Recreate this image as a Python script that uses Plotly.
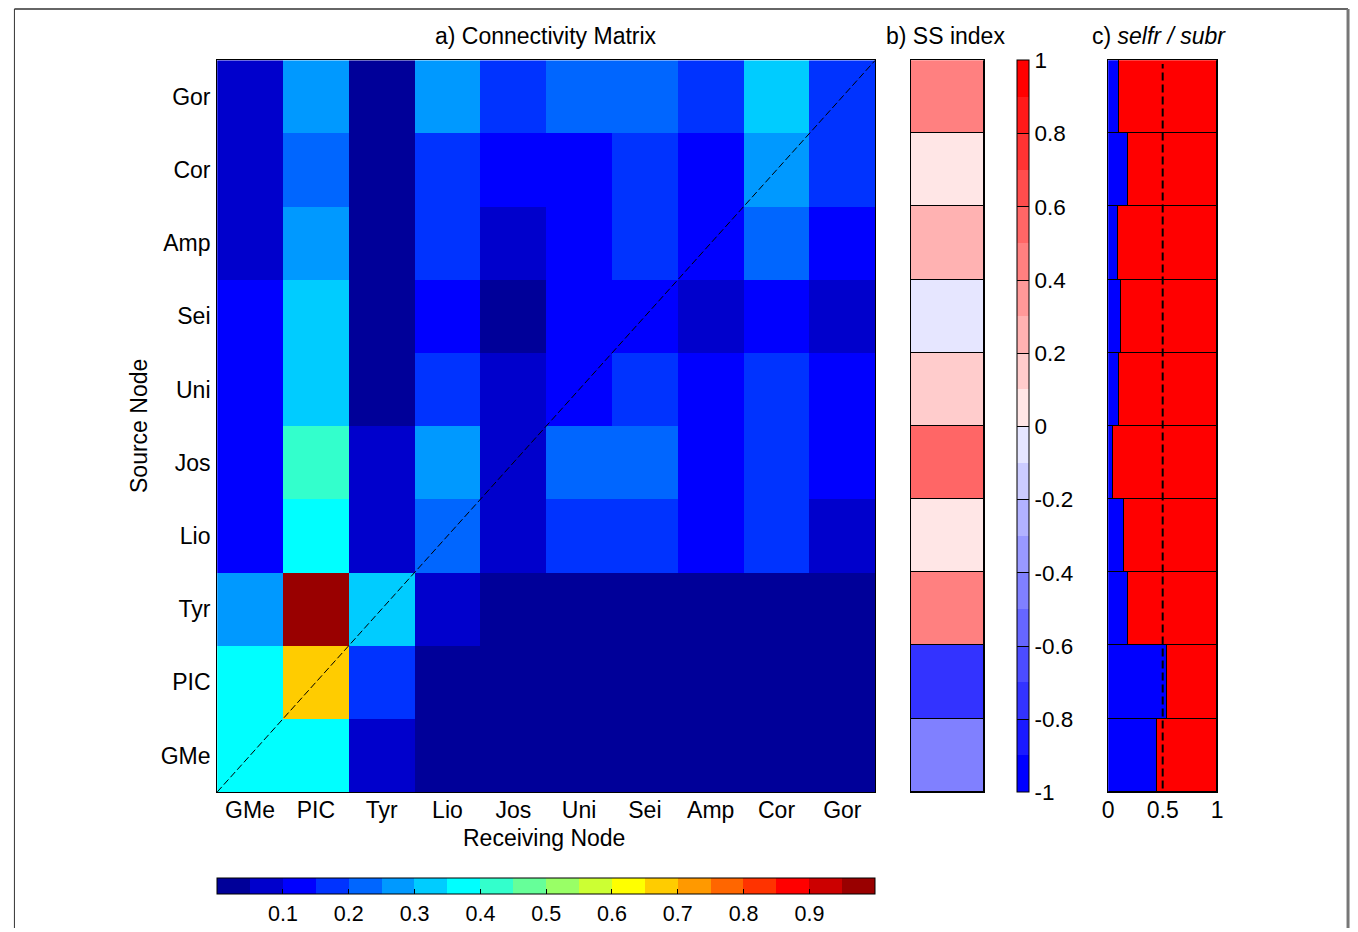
import plotly.graph_objects as go

# ---------------- data ----------------
nodes = ["GMe", "PIC", "Tyr", "Lio", "Jos", "Uni", "Sei", "Amp", "Cor", "Gor"]

# connectivity matrix: row = source node (same order as nodes), column = receiving node
conn_GMe = [0.375, 0.375, 0.075, 0.025, 0.025, 0.025, 0.025, 0.025, 0.025, 0.025]
conn_PIC = [0.375, 0.675, 0.175, 0.025, 0.025, 0.025, 0.025, 0.025, 0.025, 0.025]
conn_Tyr = [0.275, 0.975, 0.325, 0.075, 0.025, 0.025, 0.025, 0.025, 0.025, 0.025]
conn_Lio = [0.125, 0.375, 0.075, 0.225, 0.075, 0.175, 0.175, 0.125, 0.175, 0.075]
conn_Jos = [0.125, 0.425, 0.075, 0.275, 0.075, 0.225, 0.225, 0.125, 0.175, 0.125]
conn_Uni = [0.125, 0.325, 0.025, 0.175, 0.075, 0.125, 0.175, 0.125, 0.175, 0.125]
conn_Sei = [0.125, 0.325, 0.025, 0.125, 0.025, 0.125, 0.125, 0.075, 0.125, 0.075]
conn_Amp = [0.075, 0.275, 0.025, 0.175, 0.075, 0.125, 0.175, 0.125, 0.225, 0.125]
conn_Cor = [0.075, 0.225, 0.025, 0.175, 0.125, 0.125, 0.175, 0.125, 0.275, 0.175]
conn_Gor = [0.075, 0.275, 0.025, 0.275, 0.175, 0.225, 0.225, 0.175, 0.325, 0.175]
conn = [conn_GMe, conn_PIC, conn_Tyr, conn_Lio, conn_Jos,
        conn_Uni, conn_Sei, conn_Amp, conn_Cor, conn_Gor]

ss_index = [-0.45, -0.75, 0.45, 0.05, 0.55, 0.15, -0.05, 0.25, 0.05, 0.45]
selfr = [0.45, 0.54, 0.18, 0.15, 0.05, 0.10, 0.12, 0.09, 0.18, 0.10]
subr = [0.55, 0.46, 0.82, 0.85, 0.95, 0.90, 0.88, 0.91, 0.82, 0.90]

conn_ticks = [0.1, 0.2, 0.3, 0.4, 0.5, 0.6, 0.7, 0.8, 0.9]
ss_ticks = [-1, -0.8, -0.6, -0.4, -0.2, 0, 0.2, 0.4, 0.6, 0.8, 1]
ss_ticktext = ["-1", "-0.8", "-0.6", "-0.4", "-0.2", "0", "0.2", "0.4", "0.6", "0.8", "1"]
c_ticks = [0, 0.5, 1]

# ---------------- layout helpers ----------------
W, H = 1358, 932
FONT = "Arial, 'Liberation Sans', sans-serif"
FS = 23
FS_CB = 21.5


def fx(X):
    return X / W


def fy(Y):
    return 1 - Y / H


def discrete(colors):
    k = len(colors)
    cs = []
    for i, c in enumerate(colors):
        cs.append([i / k, c])
        cs.append([(i + 1) / k, c])
    return cs


jet20 = ["#000099", "#0000CC", "#0000FF", "#0033FF", "#0066FF", "#0099FF", "#00CCFF",
         "#00FFFF", "#33FFCC", "#66FF99", "#99FF66", "#CCFF33", "#FFFF00", "#FFCC00",
         "#FF9900", "#FF6600", "#FF3300", "#FF0000", "#CC0000", "#990000"]
bwr = []
for j in range(10):
    v = round(255 * j / 10)
    bwr.append(f"rgb({v},{v},255)")
for k in range(1, 11):
    v = round(255 * (1 - k / 10))
    bwr.append(f"rgb(255,{v},{v})")

idx = list(range(len(nodes)))
n = len(nodes)
tickf = dict(family=FONT, size=FS, color="black")
cbf = dict(family=FONT, size=FS_CB, color="black")

fig = go.Figure()

# a) connectivity matrix
fig.add_trace(go.Heatmap(
    z=conn, x=idx, y=idx, zmin=0, zmax=1, colorscale=discrete(jet20),
    xaxis="x", yaxis="y", hoverinfo="z",
    colorbar=dict(orientation="h", x=fx(545), xanchor="center", y=fy(882), yanchor="top",
                  len=664 / W, lenmode="fraction", thickness=16, xpad=0, ypad=0,
                  outlinecolor="black", outlinewidth=1,
                  tickvals=conn_ticks, ticktext=[str(t) for t in conn_ticks],
                  ticks="inside", ticklen=5, tickcolor="black", tickfont=cbf),
))
fig.add_trace(go.Scatter(
    x=[-0.5, n - 0.5], y=[-0.5, n - 0.5], mode="lines", xaxis="x", yaxis="y",
    line=dict(color="black", width=1, dash="7px,3px"), showlegend=False, hoverinfo="skip"))

# b) SS index
fig.add_trace(go.Bar(
    y=idx, x=[1] * n, orientation="h", width=1, xaxis="x2", yaxis="y2",
    marker=dict(color=ss_index, cmin=-1, cmax=1, colorscale=discrete(bwr),
                line=dict(color="black", width=1), showscale=True,
                colorbar=dict(x=fx(1020), xanchor="left", y=fy(428.25), yanchor="middle",
                              len=735.5 / H, lenmode="fraction", thickness=12,
                              xpad=0, ypad=0, outlinecolor="black", outlinewidth=1,
                              tickvals=ss_ticks, ticktext=ss_ticktext,
                              ticks="inside", ticklen=12, tickcolor="black",
                              tickfont=dict(family=FONT, size=22.5, color="black"))),
    showlegend=False, hovertext=nodes))

# c) selfr / subr
fig.add_trace(go.Bar(y=idx, x=selfr, orientation="h", width=1, xaxis="x3", yaxis="y3",
                     marker=dict(color="#0000FF", line=dict(color="black", width=1)),
                     name="selfr", showlegend=False))
fig.add_trace(go.Bar(y=idx, x=subr, orientation="h", width=1, xaxis="x3", yaxis="y3",
                     marker=dict(color="#FF0000", line=dict(color="black", width=1)),
                     name="subr", showlegend=False))

ydom = [fy(795.5), fy(60.5)]
frame = dict(showline=True, linecolor="black", linewidth=1, mirror=True, zeroline=False,
             showgrid=False)

fig.update_layout(
    width=W, height=H, margin=dict(l=0, r=0, t=0, b=0, pad=0),
    paper_bgcolor="white", plot_bgcolor="white", barmode="stack", bargap=0,
    font=dict(family=FONT, size=FS, color="black"),
    xaxis=dict(domain=[fx(213), fx(877)], range=[-0.5, n - 0.5], tickvals=idx, ticktext=nodes,
               tickfont=tickf, ticks="", ticklabelstandoff=-3, **frame),
    yaxis=dict(domain=ydom, range=[-0.5, n - 0.5], tickvals=idx, ticktext=nodes,
               tickfont=tickf, ticks="", ticklabelstandoff=1, **frame),
    xaxis2=dict(domain=[fx(913), fx(987)], range=[0, 1], showticklabels=False, ticks="",
                anchor="y2", **frame),
    yaxis2=dict(domain=ydom, range=[-0.5, n - 0.5], showticklabels=False, ticks="",
                anchor="x2", **frame),
    xaxis3=dict(domain=[fx(1112), fx(1222)], range=[0, 1], tickvals=c_ticks,
                ticktext=["0", "0.5", "1"], tickfont=tickf, ticks="", ticklabelstandoff=-3,
                anchor="y3", **frame),
    yaxis3=dict(domain=ydom, range=[-0.5, n - 0.5], showticklabels=False, ticks="",
                anchor="x3", **frame),
)

fig.add_shape(type="line", xref="x3", yref="y3 domain", x0=0.5, x1=0.5, y0=0.005, y1=0.995,
              line=dict(color="black", width=2, dash="8px,4px"))

# outer frame
fig.add_shape(type="line", xref="paper", yref="paper", x0=fx(8.5), x1=fx(8.5), y0=0, y1=fy(9),
              line=dict(color="#333333", width=1))
fig.add_shape(type="line", xref="paper", yref="paper", x0=fx(8.5), x1=fx(1354), y0=fy(9), y1=fy(9),
              line=dict(color="#333333", width=1.5))
fig.add_shape(type="line", xref="paper", yref="paper", x0=fx(1354), x1=fx(1354), y0=0, y1=fy(9),
              line=dict(color="#777777", width=3))

ann = dict(xref="paper", yref="paper", showarrow=False, font=dict(family=FONT, size=FS, color="black"))
fig.add_annotation(text="a) Connectivity Matrix", x=fx(545), y=fy(36), xanchor="center", yanchor="middle", **ann)
fig.add_annotation(text="b) SS index", x=fx(948), y=fy(36), xanchor="center", yanchor="middle", **ann)
fig.add_annotation(text="c) <i>selfr / subr</i>", x=fx(1163), y=fy(36), xanchor="center", yanchor="middle", **ann)
fig.add_annotation(text="Receiving Node", x=fx(543), y=fy(842), xanchor="center", yanchor="middle", **ann)
fig.add_annotation(text="Source Node", x=fx(134), y=fy(428), xanchor="center", yanchor="middle",
                   textangle=-90, **ann)

post = ("document.body.style.margin='0px';"
        "document.documentElement.style.overflow='hidden';"
        "document.body.style.overflow='hidden';"
        "var d=document.getElementById('{plot_id}');"
        "d.style.position='fixed';d.style.left='0px';d.style.top='0px';")
fig.write_html("out.html", config={"displayModeBar": False}, post_script=post)
